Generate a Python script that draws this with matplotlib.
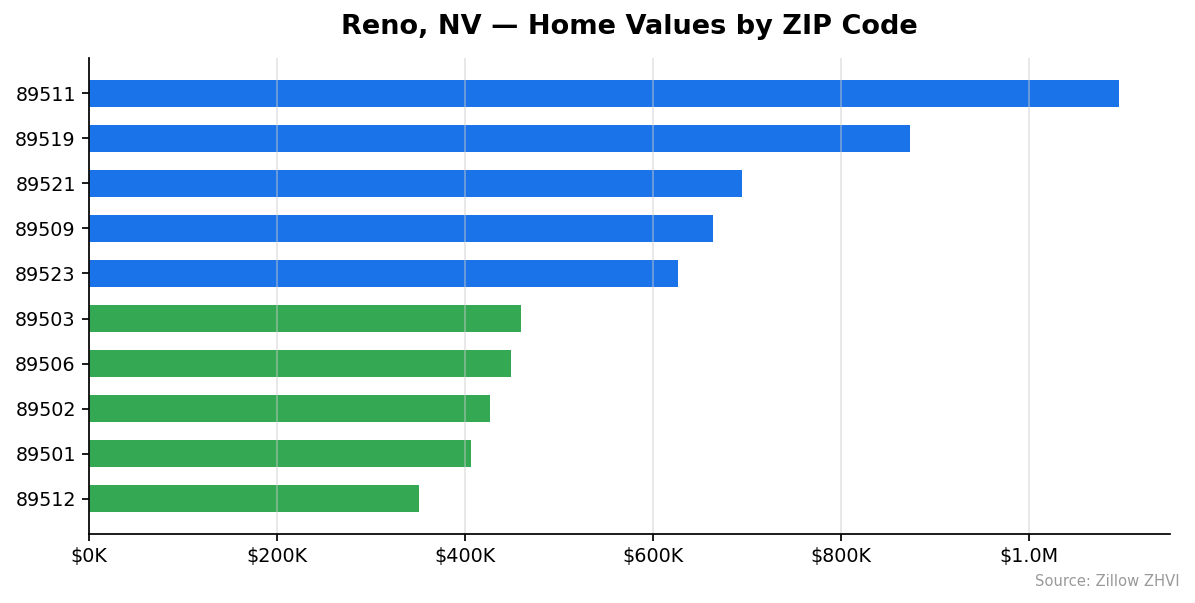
import matplotlib
matplotlib.use("Agg")
import matplotlib.pyplot as plt
from matplotlib.ticker import FuncFormatter

# ZIP codes, top to bottom, and home values (thousands of $)
zips = ["89511", "89519", "89521", "89509", "89523",
        "89503", "89506", "89502", "89501", "89512"]
values = [1095, 873, 695, 664, 626, 460, 449, 426, 406, 351]
colors = ["#1a73e8"] * 5 + ["#34a853"] * 5

fig = plt.figure(figsize=(11.95, 6.03), dpi=100)
ax = fig.add_axes([89 / 1195, 1 - 534 / 603, (1170 - 89) / 1195, (534 - 58) / 603])

ax.barh(zips, values, color=colors, height=0.6)
ax.invert_yaxis()
ax.set_xlim(0, max(values) * 1.05)


def money(x, pos):
    if x >= 1000:
        return f"${x / 1000:.1f}M"
    return f"${x:.0f}K"


ax.xaxis.set_major_formatter(FuncFormatter(money))
ax.set_xticks([0, 200, 400, 600, 800, 1000])
ax.tick_params(axis="both", labelsize=13.8, length=5, width=1.25, pad=4.5)
ax.grid(axis="x", color="#cccccc", alpha=0.5, linewidth=1.25)
ax.spines["top"].set_visible(False)
ax.spines["right"].set_visible(False)
ax.spines["left"].set_linewidth(1.25)
ax.spines["bottom"].set_linewidth(1.25)

ax.set_title("Reno, NV — Home Values by ZIP Code", fontsize=19.5, fontweight="bold", pad=17)
fig.text(1180 / 1195, 1 - 581 / 603, "Source: Zillow ZHVI", ha="right", va="center",
         fontsize=10.6, color="#999999")

fig.savefig("out.png", dpi=100)
